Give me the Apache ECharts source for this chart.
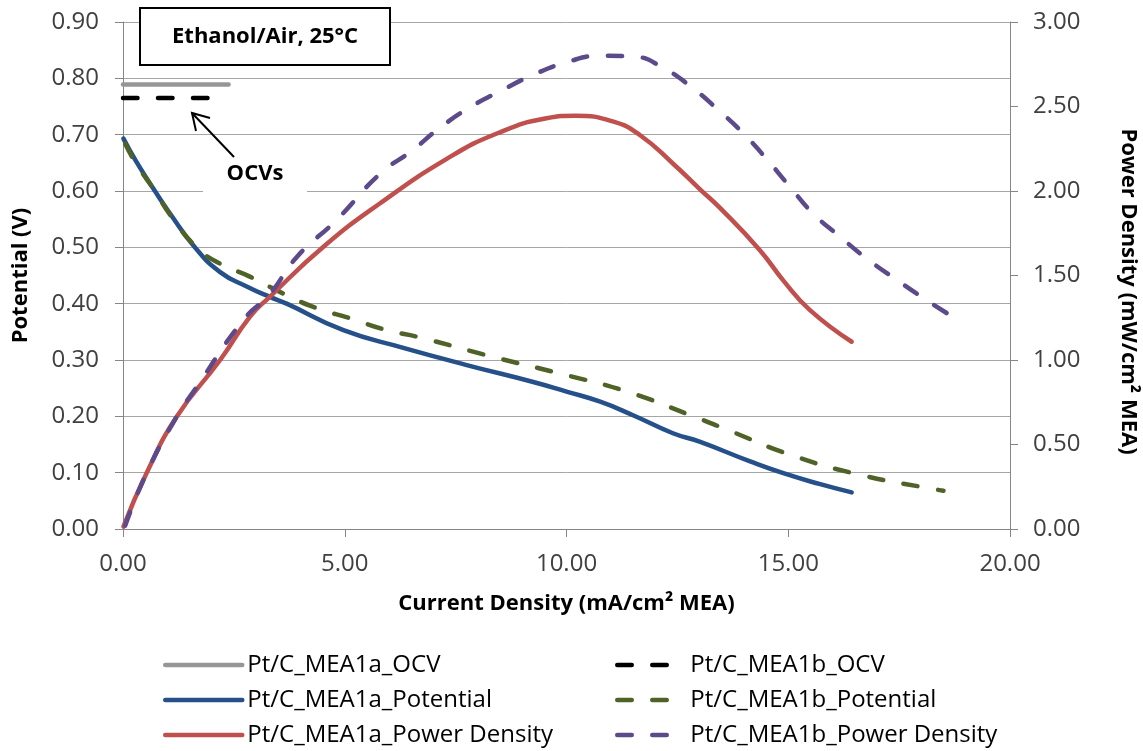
<!DOCTYPE html>
<html>
<head>
<meta charset="utf-8">
<title>Ethanol/Air polarisation</title>
<script src="https://cdn.jsdelivr.net/npm/echarts@6/dist/echarts.min.js"></script>
<style>
  html, body { margin: 0; padding: 0; background: #fff; }
  #chart { width: 1143px; height: 751px; }
</style>
</head>
<body>
<div id="chart"></div>
<script>
// OCV reference lines (current density, potential)
const ocv1aX = [0, 2.38]
const ocv1aV = [0.789, 0.789]
const ocv1bX = [0, 2.3]
const ocv1bV = [0.765, 0.765]

// Pt/C_MEA1a potential (V) vs current density (mA/cm2)
const pot1aX = [0.01, 0.3, 0.72, 1.06, 1.62, 2.19, 2.8, 3.31, 3.69, 4.97, 6.3, 7.75, 9.25, 10.0, 10.76, 11.5, 12.4, 13.0, 14.14, 14.89, 15.7, 16.43]
const pot1aV = [0.693, 0.652, 0.600, 0.560, 0.500, 0.456, 0.430, 0.412, 0.400, 0.353, 0.322, 0.291, 0.261, 0.244, 0.226, 0.202, 0.170, 0.155, 0.120, 0.099, 0.080, 0.065]

// Pt/C_MEA1b potential
const pot1bX = [0.05, 0.3, 0.72, 1.06, 1.66, 2.19, 2.86, 3.61, 4.37, 5.12, 5.95, 6.70, 8.27, 9.85, 11.36, 12.86, 13.63, 15.11, 16.69, 18.27, 18.5]
const pot1bV = [0.684, 0.648, 0.600, 0.558, 0.500, 0.471, 0.448, 0.418, 0.392, 0.374, 0.353, 0.340, 0.307, 0.276, 0.244, 0.200, 0.176, 0.130, 0.095, 0.071, 0.068]

// Pt/C_MEA1a power density (mW/cm2)
const pow1aX = [0.01, 0.53, 1.21, 2.19, 2.86, 3.31, 4.52, 5.79, 7.30, 8.43, 9.55, 10.20, 11.06, 11.66, 12.41, 13.01, 13.46, 14.36, 14.89, 15.49, 16.43]
const pow1aP = [0.014, 0.33, 0.664, 1.0, 1.255, 1.374, 1.67, 1.926, 2.19, 2.34, 2.43, 2.445, 2.41, 2.33, 2.16, 2.01, 1.90, 1.65, 1.47, 1.295, 1.108]

// Pt/C_MEA1b power density
const pow1bX = [0.05, 0.53, 1.21, 1.66, 2.71, 3.31, 3.92, 4.82, 5.79, 6.52, 7.15, 7.79, 8.5, 9.23, 9.98, 10.76, 11.52, 12.2, 12.84, 13.42, 13.99, 14.51, 15.04, 15.56, 16.17, 16.77, 17.45, 18.12, 18.65]
const pow1bP = [0.02, 0.33, 0.664, 0.84, 1.236, 1.39, 1.61, 1.83, 2.10, 2.24, 2.375, 2.49, 2.59, 2.685, 2.76, 2.80, 2.795, 2.725, 2.61, 2.48, 2.34, 2.19, 2.024, 1.867, 1.729, 1.60, 1.473, 1.354, 1.265]

const pairs = (xs, ys) => xs.map((x, i) => [x, ys[i]])

const font = 'Open Sans'
const dash = [14.5, 20.5]

const lineSeries = (name, xs, ys, color, yAxisIndex, dashed, smooth) => ({
  name,
  type: 'line',
  yAxisIndex,
  data: pairs(xs, ys),
  symbol: 'none',
  smooth: smooth ? 0.5 : false,
  lineStyle: { color, width: 4.5, type: dashed ? dash : 'solid', cap: 'round' },
  itemStyle: { color },
  z: 3
})

const legendBase = {
  top: 653,
  orient: 'vertical',
  padding: 0,
  itemHeight: 14,
  itemGap: 11,
  itemStyle: { opacity: 0 },
  lineStyle: { width: 4.5 },
  textStyle: { fontFamily: font, fontSize: 24, lineHeight: 24, color: '#000' }
}

const chart = echarts.init(document.getElementById('chart'))

chart.setOption({
  animation: false,
  grid: { left: 123, right: 133, top: 22, bottom: 222, outerBoundsMode: 'none' },
  legend: [
    Object.assign({}, legendBase, {
      left: 163,
      itemWidth: 77,
      data: ['Pt/C_MEA1a_OCV', 'Pt/C_MEA1a_Potential', 'Pt/C_MEA1a_Power Density']
    }),
    Object.assign({}, legendBase, {
      left: 615,
      itemWidth: 68,
      data: ['Pt/C_MEA1b_OCV', 'Pt/C_MEA1b_Potential', 'Pt/C_MEA1b_Power Density']
    })
  ],
  xAxis: {
    type: 'value',
    min: 0,
    max: 20,
    interval: 5,
    name: 'Current Density (mA/cm² MEA)',
    nameLocation: 'middle',
    nameGap: 64,
    nameTextStyle: { fontFamily: font, fontSize: 22, fontWeight: 'bold', color: '#000' },
    axisLine: { lineStyle: { color: '#868686', width: 1 } },
    axisTick: { show: true, length: 8, lineStyle: { color: '#868686' } },
    axisLabel: { margin: 23, fontFamily: font, fontSize: 24, color: '#404040', formatter: v => v.toFixed(2) },
    splitLine: { show: false }
  },
  yAxis: [
    {
      type: 'value',
      min: 0,
      max: 0.9,
      interval: 0.1,
      name: 'Potential (V)',
      nameLocation: 'middle',
      nameGap: 91,
      nameTextStyle: { fontFamily: font, fontSize: 22, fontWeight: 'bold', color: '#000' },
      axisLine: { show: true, lineStyle: { color: '#868686', width: 1 } },
      axisTick: { show: true, length: 8, lineStyle: { color: '#868686' } },
      axisLabel: { margin: 24, fontFamily: font, fontSize: 24, color: '#404040', formatter: v => v.toFixed(2) },
      splitLine: { show: true, lineStyle: { color: '#a6a6a6', width: 1 } }
    },
    {
      type: 'value',
      position: 'right',
      min: 0,
      max: 3,
      interval: 0.5,
      name: 'Power Density (mW/cm² MEA)',
      nameLocation: 'middle',
      nameRotate: -90,
      nameGap: 107,
      nameTextStyle: { fontFamily: font, fontSize: 22, fontWeight: 'bold', color: '#000', padding: [0, 0, 0, 32] },
      axisLine: { show: true, lineStyle: { color: '#868686', width: 1 } },
      axisTick: { show: true, length: 8, lineStyle: { color: '#868686' } },
      axisLabel: { margin: 23, fontFamily: font, fontSize: 24, color: '#404040', formatter: v => v.toFixed(2) },
      splitLine: { show: false }
    }
  ],
  graphic: [
    // title box
    {
      type: 'rect',
      shape: { x: 140, y: 8, width: 250, height: 57 },
      style: { fill: '#fff', stroke: '#000', lineWidth: 2 },
      z: 10
    },
    {
      type: 'text',
      x: 265,
      y: 37,
      style: { text: 'Ethanol/Air, 25°C', fontFamily: font, fontSize: 22, fontWeight: 'bold', fill: '#000', align: 'center', verticalAlign: 'middle' },
      z: 11
    },
    // OCVs annotation
    {
      type: 'rect',
      shape: { x: 203, y: 160, width: 104, height: 36 },
      style: { fill: '#fff' },
      z: 1
    },
    {
      type: 'text',
      x: 255,
      y: 174,
      style: { text: 'OCVs', fontFamily: font, fontSize: 22, fontWeight: 'bold', fill: '#000', align: 'center', verticalAlign: 'middle' },
      z: 11
    },
    {
      type: 'polyline',
      shape: { points: [[234, 157], [192, 113]] },
      style: { stroke: '#000', lineWidth: 2 },
      z: 11
    },
    {
      type: 'polyline',
      shape: { points: [[210, 118], [192, 113], [196, 131]] },
      style: { stroke: '#000', lineWidth: 2, fill: null },
      z: 11
    }
  ],
  series: [
    lineSeries('Pt/C_MEA1a_OCV', ocv1aX, ocv1aV, '#969696', 0, false, false),
    lineSeries('Pt/C_MEA1b_OCV', ocv1bX, ocv1bV, '#000000', 0, true, false),
    lineSeries('Pt/C_MEA1a_Potential', pot1aX, pot1aV, '#265089', 0, false, true),
    lineSeries('Pt/C_MEA1b_Potential', pot1bX, pot1bV, '#4f6228', 0, true, true),
    lineSeries('Pt/C_MEA1a_Power Density', pow1aX, pow1aP, '#c0504d', 1, false, true),
    lineSeries('Pt/C_MEA1b_Power Density', pow1bX, pow1bP, '#5c4a8a', 1, true, true)
  ]
})
</script>
</body>
</html>
